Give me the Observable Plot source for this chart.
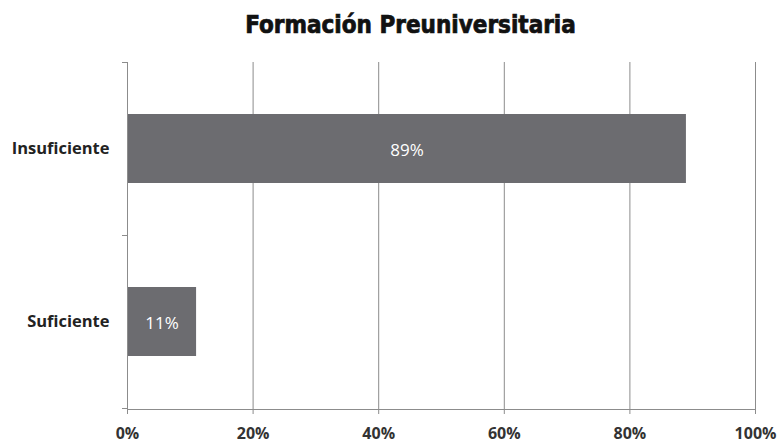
<!DOCTYPE html>
<html>
<head>
<meta charset="utf-8">
<script src="https://cdn.jsdelivr.net/npm/d3@7"></script>
<script src="https://cdn.jsdelivr.net/npm/@observablehq/plot@0.6"></script>
<style>
  body { margin: 0; background: #fff; }
  #title { height: 50px; width: 781px; display: flex; align-items: center; justify-content: center;
    font-family: "DejaVu Sans Condensed", "DejaVu Sans", sans-serif; font-weight: bold; font-size: 24px; color: #111;
    -webkit-text-stroke: 0.7px #111; padding-left: 40px; box-sizing: border-box; }
</style>
</head>
<body>
<div id="title">Formación Preuniversitaria</div>
<div id="chart"></div>
<script>
const categories = ["Insuficiente", "Suficiente"];
const values = [0.89, 0.11];
const xTicks = [0, 0.2, 0.4, 0.6, 0.8, 1.0];

const data = categories.map((c, i) => ({category: c, value: values[i]}));

const edgeTicks = (index, scales, vals, dims) => {
  const g = d3.create("svg:g").attr("stroke", "#8c8c8c").attr("stroke-width", 1);
  const y = scales.y;
  const step = y.step ? y.step() : (y.bandwidth() / 0.4);
  const x0 = dims.marginLeft;
  const x1 = dims.width - dims.marginRight;
  const top = dims.marginTop;
  const bottom = dims.height - dims.marginBottom;
  g.append("line").attr("x1", x0 + 0.5).attr("x2", x0 + 0.5).attr("y1", top).attr("y2", bottom);
  g.append("line").attr("x1", x0).attr("x2", x1).attr("y1", bottom + 0.5).attr("y2", bottom + 0.5);
  const edges = [top, ...categories.map(c => y(c) + y.bandwidth() + step * 0.3)];
  for (const e of edges) {
    g.append("line").attr("x1", x0 - 5).attr("x2", x0).attr("y1", Math.round(e) + 0.5).attr("y2", Math.round(e) + 0.5);
  }
  return g.node();
};

const chart = Plot.plot({
  width: 781,
  height: 394,
  marginTop: 12,
  marginBottom: 35,
  marginLeft: 127,
  marginRight: 26,
  style: {fontFamily: "'Open Sans', sans-serif", background: "#fff"},
  x: {domain: [0, 1], ticks: xTicks, tickFormat: d3.format(".0%"), label: null},
  y: {domain: categories, paddingInner: 0.6, paddingOuter: 0.3, label: null},
  marks: [
    Plot.gridX(xTicks.slice(1), {stroke: "#8c8c8c", strokeOpacity: 1}),
    Plot.axisX({ticks: xTicks, tickFormat: d3.format(".0%"), tickSize: 5, stroke: "#8c8c8c", fontSize: 16, fontWeight: "bold", fill: "#333", tickPadding: 13, label: null}),
    Plot.axisY({tickSize: 0, tickPadding: 18, fontSize: 16.5, fontWeight: "bold", fill: "#222", label: null}),
    Plot.barX(data, {y: "category", x: "value", fill: "#6c6c70"}),
    Plot.text(data, {y: "category", x: d => d.value / 2, text: d => d3.format(".0%")(d.value), fill: "#fff", fontSize: 17, dy: 2}),
    edgeTicks
  ]
});
document.getElementById("chart").appendChild(chart);
</script>
</body>
</html>
